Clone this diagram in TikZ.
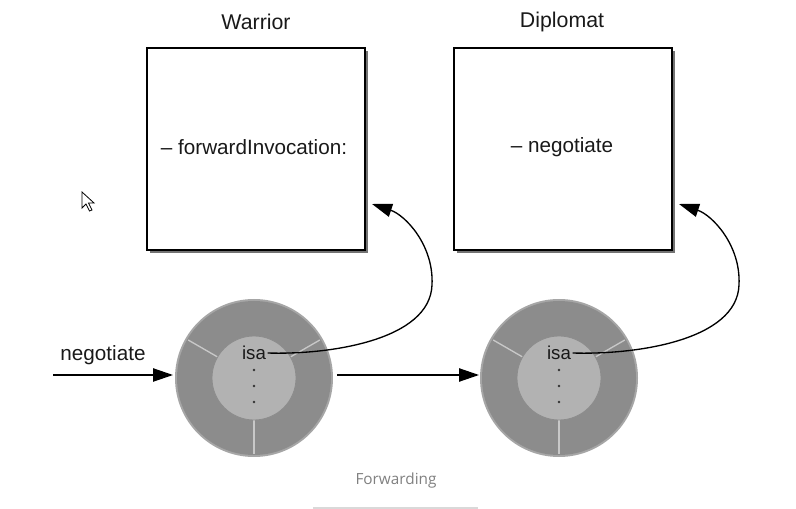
\documentclass[tikz,border=0pt]{standalone}
\usepackage{fontspec}
\setmainfont{Liberation Sans}
\newfontfamily\capfont{Open Sans}
\usetikzlibrary{arrows.meta,calc}
\definecolor{ringgray}{HTML}{8C8C8C}
\definecolor{coregray}{HTML}{B2B2B2}
\definecolor{sepgray}{HTML}{C8C8C8}
\tikzset{
  classbox/.style={draw=black,line width=1pt,fill=white,minimum width=218*0.75pt,minimum height=202*0.75pt,inner sep=0pt},
  boxshadow/.style={fill=black!55,minimum width=218*0.75pt,minimum height=202*0.75pt,inner sep=0pt},
  title/.style={font=\fontsize{16pt}{19pt}\selectfont,text=black!90},
  method/.style={font=\fontsize{15.5pt}{19pt}\selectfont,text=black!90},
  flow/.style={line width=1pt,-{Triangle[length=15pt,width=10pt]}},
  isalabel/.style={font=\fontsize{14pt}{17pt}\selectfont,inner sep=1pt,text=black!90},
}
\begin{document}
\begin{tikzpicture}[x=0.75pt,y=-0.75pt]
\useasboundingbox (0,0) rectangle (796,509);
% boxes
\node[boxshadow] at (259,152) {};
\node[classbox] (warrior) at (256,149) {};
\node[boxshadow] at (566,152) {};
\node[classbox] (diplomat) at (563,149) {};
\node[title] (wt) at (256,22) {Warrior};
\node[title] (dt) at (562,22) {Diplomat};
\node[method] (fwd) at (254,147) {– forwardInvocation:};
\node[method] (neg) at (562,147) {– negotiate};
% objects
\foreach \n/\cx in {obja/254,objb/559}{
  \fill[black!35] (\cx,378) circle[radius=79];
  \fill[ringgray] (\cx,378) circle[radius=77];
  \draw[sepgray,line width=1pt] ($(\cx,378)+(210:42)$) -- ($(\cx,378)+(210:76)$);
  \draw[sepgray,line width=1pt] ($(\cx,378)+(330:42)$) -- ($(\cx,378)+(330:76)$);
  \draw[sepgray,line width=1pt] ($(\cx,378)+(90:42)$) -- ($(\cx,378)+(90:76)$);
  \fill[coregray] (\cx,378) circle[radius=42];
  \draw[black!45,line width=0.6pt] (\cx,378) circle[radius=42];
  \node[isalabel] (\n isa) at (\cx,353) {isa};
  \foreach \yy in {370,386,402}{\fill[black!80] (\cx,\yy) circle[radius=1.3];}
  \coordinate (\n) at (\cx,378);
}
% arrows
\node[font=\fontsize{15.5pt}{19pt}\selectfont,text=black!90] (msg) at (103,355) {negotiate};
\coordinate (start) at (53,375);
\draw[flow] (start) -- ($(obja)+(-81,-3)$);
\draw[flow] ($(obja)+(83,-3)$) -- ($(objb)+(-80,-3)$);
\draw[flow] (objaisa.east) .. controls (330,355) and (430,340) .. (432,285) .. controls (434,245) and (405,215) .. (372,204);
\draw[flow] (objbisa.east) .. controls (637,355) and (737,340) .. (739,285) .. controls (741,245) and (712,215) .. (679,204);
% cursor
\draw[black,fill=white,line width=0.6pt,line join=miter] (82,192) -- (82,208) -- (86,204) -- (89.5,211) -- (92,210) -- (88.5,203) -- (94,203) -- cycle;
% caption
\node[font=\capfont\fontsize{11.5pt}{14pt}\selectfont,text=black!50] (cap) at (396,481) {Forwarding};
\draw[black!15,line width=0.8pt] (313,508) -- (478,508);
\end{tikzpicture}
\end{document}
